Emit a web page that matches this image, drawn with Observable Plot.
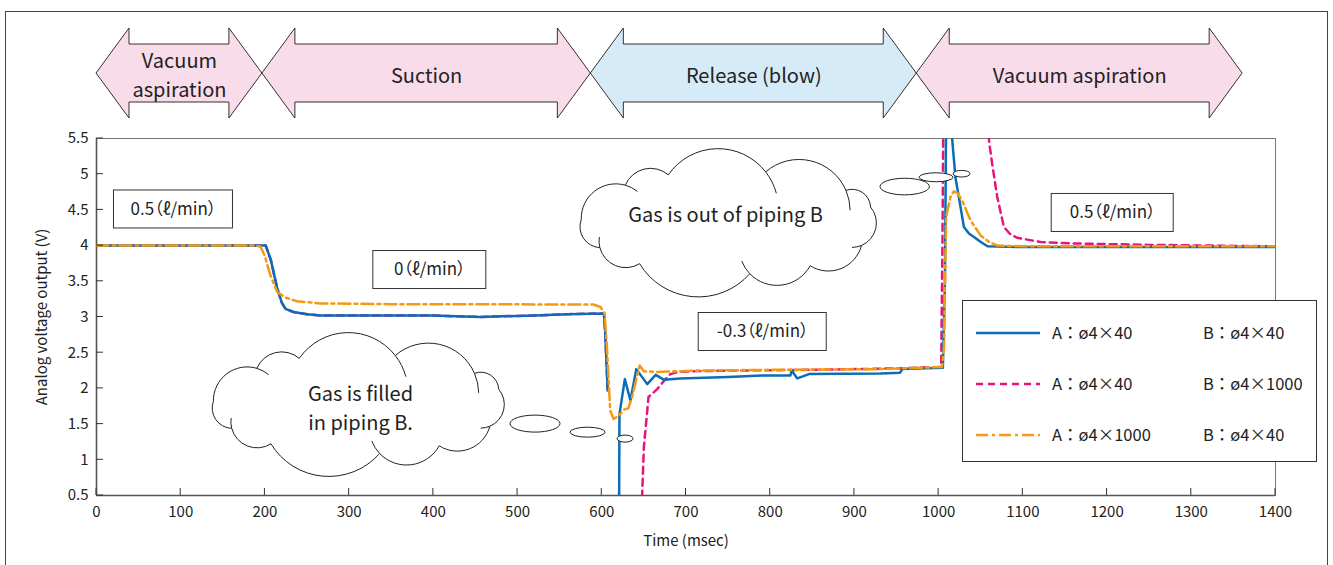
<!DOCTYPE html>
<html><head><meta charset="utf-8">
<script src="https://cdn.jsdelivr.net/npm/d3@7"></script>
<script src="https://cdn.jsdelivr.net/npm/@observablehq/plot@0.6"></script>
<style>
body{margin:0;background:#fff;}
#wrap{position:relative;width:1333px;height:565px;overflow:hidden;font-family:'Noto Sans CJK JP','Noto Sans',sans-serif;}
#chart{position:absolute;left:0;top:0;}
#chart svg{font-feature-settings:"palt";}
#border{position:absolute;left:5px;top:11px;width:1321px;height:600px;border:1px solid #444;pointer-events:none;}
#legend{position:absolute;left:962px;top:300px;}
</style></head>
<body><div id="wrap"><div id="chart"></div><div id="border"></div><div id="legend"></div></div>
<script>
// ---------- data ----------
const seriesA = ["A：ø4×40", "A：ø4×40", "A：ø4×1000"];
const seriesB = ["B：ø4×40", "B：ø4×1000", "B：ø4×40"];

// A: ø4×40, B: ø4×40 (blue)
const blueTime = [0, 195, 201, 207, 214.6, 220, 224.4, 234, 250, 266, 320, 400, 456, 482, 520, 560, 602.5, 604, 607, 608,
  620.5, 621, 627.4, 634, 641, 654, 664, 674, 693, 750, 790, 824, 825.5, 832, 846, 931, 954, 957, 1005, 1007.5, 1009, 1011,
  1016, 1020, 1024, 1030, 1036, 1042, 1050, 1058, 1100, 1200, 1300, 1400];
const blueVolt = [4.0, 4.0, 4.0, 3.8, 3.4, 3.2, 3.115, 3.07, 3.04, 3.02, 3.02, 3.02, 3.0, 3.01, 3.02, 3.04, 3.05, 2.8, 1.97, null,
  0.2, 1.64, 2.13, 1.83, 2.27, 2.06, 2.19, 2.12, 2.14, 2.16, 2.18, 2.18, 2.25, 2.14, 2.2, 2.21, 2.22, 2.27, 2.29, 3.5, 6.0, 6.3,
  5.5, 4.95, 4.68, 4.26, 4.17, 4.12, 4.05, 3.99, 3.98, 3.98, 3.98, 3.98];

// A: ø4×40, B: ø4×1000 (pink)
const pinkTime = [0, 195, 201, 207, 214.6, 220, 224.4, 234, 250, 266, 320, 400, 456, 482, 520, 560, 602.5, 604, 607, 608,
  647.5, 648, 650, 655.5, 665.8, 675.6, 681.6, 690, 709, 750, 850, 950, 1003, 1004.5, 1006, 1030, 1055, 1060, 1063.5, 1069.6,
  1077.5, 1085, 1093, 1121, 1160, 1250, 1400];
const pinkVolt = [4.0, 4.0, 4.0, 3.8, 3.4, 3.2, 3.115, 3.07, 3.04, 3.02, 3.02, 3.02, 3.0, 3.01, 3.02, 3.04, 3.05, 2.8, 1.97, null,
  0.3, 0.53, 1.18, 1.88, 1.99, 2.13, 2.2, 2.23, 2.24, 2.25, 2.26, 2.28, 2.3, 4.0, 6.5, 7.0, 6.2, 5.45, 5.15, 4.68,
  4.26, 4.16, 4.11, 4.05, 4.03, 4.01, 3.99];

// A: ø4×1000, B: ø4×40 (orange)
const orangeTime = [0, 190, 195, 200, 206, 214.6, 225, 238, 266, 350, 450, 550, 590, 598.5, 603.4, 606, 608.4, 610, 614, 620,
  627.5, 631.5, 636, 645, 650, 665.8, 717, 800, 931, 1004, 1006.5, 1007.5, 1009, 1014, 1018, 1022, 1028, 1038, 1050, 1060,
  1069.6, 1100, 1400];
const orangeVolt = [4.0, 4.0, 3.98, 3.85, 3.6, 3.35, 3.27, 3.22, 3.19, 3.18, 3.18, 3.175, 3.175, 3.14, 3.05, 2.6, 2.06, 1.69, 1.57, 1.62,
  1.71, 1.72, 1.88, 2.32, 2.24, 2.23, 2.25, 2.26, 2.27, 2.3, 2.6, 3.51, 4.4, 4.68, 4.76, 4.74, 4.63, 4.35, 4.14, 4.05,
  4.0, 3.99, 3.99];

const xTicks = [0, 100, 200, 300, 400, 500, 600, 700, 800, 900, 1000, 1100, 1200, 1300, 1400];
const yTicks = [0.5, 1, 1.5, 2, 2.5, 3, 3.5, 4, 4.5, 5, 5.5];

const phaseLabels = ["Vacuum\naspiration", "Suction", "Release (blow)", "Vacuum aspiration"];
const phaseStart = [0, 197, 587, 974];
const phaseEnd = [197, 587, 974, 1361];
const phaseKind = ["vacuum", "suction", "release", "vacuum"];

const flowLabels = ["0.5（ℓ/min）", "0（ℓ/min）", "-0.3（ℓ/min）", "0.5（ℓ/min）"];
const flowX = [91.4, 395.8, 791.1, 1206.7];
const flowY = [4.506, 3.658, 2.79, 4.457];

const cloudTexts = ["Gas is filled\nin piping B.", "Gas is out of piping B"];
const cloudX = [312.5, 751.7];
const cloudY = [1.775, 4.32];
const cloudTextX = [313.5, 747];
const cloudTextY = [1.75, 4.46];
const bubbleX = [521.3, 583.7, 628.2, 960.3, 997.5, 1027.8];
const bubbleY = [1.50, 1.38, 1.29, 4.82, 4.95, 5.0];

// ---------- styles / layout ----------
const seriesStyle = [
  {stroke: "#0b6db8", dash: null},
  {stroke: "#e6157d", dash: "7,5"},
  {stroke: "#f39a12", dash: "12,4,3,4"}
];
const phaseFill = {vacuum: "#f9dcea", suction: "#f9dcea", release: "#d6ebf8"};
const boxW = [119, 113, 128, 122];
const cloudSize = [[154, 67, 11], [156, 69, 11]];
const bubbleSize = [[25, 8.5], [17.5, 5], [8, 3.5], [24.7, 8.3], [17, 4.5], [8.5, 3.3]];
const FONT = "'Noto Sans CJK JP', 'Noto Sans', sans-serif";

const toRows = (time, volt) => time.map((t, i) => ({t, v: volt[i]}));
const lineData = [toRows(blueTime, blueVolt), toRows(pinkTime, pinkVolt), toRows(orangeTime, orangeVolt)];
const drawOrder = [1, 0, 2];

function cloudPath(cx, cy, rx, ry, n) {
  const a = rx - 8, b = ry - 17;
  const off = -Math.PI / 2 + 0.25;
  const pts = d3.range(n).map(i => {
    const ang = off + 2 * Math.PI * i / n + 0.12 * Math.sin(i * 2.3);
    return [cx + a * Math.cos(ang), cy + b * Math.sin(ang)];
  });
  let d = `M${pts[0][0]},${pts[0][1]}`;
  const hooks = [];
  for (let i = 0; i < n; i++) {
    const P = pts[i], Q = pts[(i + 1) % n];
    const c = Math.hypot(Q[0] - P[0], Q[1] - P[1]);
    const r = c * 0.62;
    d += `A${r},${r} 0 0 1 ${Q[0]},${Q[1]}`;
    if (i % 2 === 0) {
      const ux = (Q[0] - P[0]) / c, uy = (Q[1] - P[1]) / c;
      const h = Math.sqrt(r * r - c * c / 4);
      const C = [(P[0] + Q[0]) / 2 - uy * h, (P[1] + Q[1]) / 2 + ux * h];
      const th = Math.atan2(Q[1] - C[1], Q[0] - C[0]);
      const R = [C[0] + r * Math.cos(th + 0.4), C[1] + r * Math.sin(th + 0.4)];
      hooks.push(`M${Q[0]},${Q[1]}A${r},${r} 0 0 1 ${R[0]},${R[1]}`);
    }
  }
  return {outline: d + "Z", hooks: hooks.join("")};
}

const cloudsMark = (index, {x, y}) => {
  const g = d3.create("svg:g");
  cloudX.forEach((cx, i) => {
    const [rx, ry, n] = cloudSize[i];
    const p = cloudPath(x(cx), y(cloudY[i]), rx, ry, n);
    g.append("path").attr("d", p.outline).attr("fill", "white").attr("stroke", "#222").attr("stroke-width", 1);
    g.append("path").attr("d", p.hooks).attr("fill", "none").attr("stroke", "#222").attr("stroke-width", 1);
  });
  bubbleX.forEach((bx, i) => {
    g.append("ellipse").attr("cx", x(bx)).attr("cy", y(bubbleY[i]))
      .attr("rx", bubbleSize[i][0]).attr("ry", bubbleSize[i][1])
      .attr("fill", "white").attr("stroke", "#222").attr("stroke-width", 1);
  });
  return g.node();
};

const arrowsMark = (index, {x}, values, dims) => {
  const top = dims.marginTop;
  const yHT = top - 110, yBT = top - 94, yM = top - 65, yBB = top - 36, yHB = top - 20, hl = 33;
  const g = d3.create("svg:g");
  phaseStart.forEach((s, i) => {
    const x0 = x(s), x1 = x(phaseEnd[i]);
    const pts = [[x0, yM], [x0 + hl, yHT], [x0 + hl, yBT], [x1 - hl, yBT], [x1 - hl, yHT], [x1, yM],
      [x1 - hl, yHB], [x1 - hl, yBB], [x0 + hl, yBB], [x0 + hl, yHB]];
    g.append("polygon").attr("points", pts.map(p => p.join(",")).join(" "))
      .attr("fill", phaseFill[phaseKind[i]]).attr("stroke", "#231815").attr("stroke-width", 0.9);
  });
  return g.node();
};

const ticksMark = (index, {x, y}, values, dims) => {
  const g = d3.create("svg:g").attr("stroke", "#333").attr("stroke-width", 1);
  const bottom = dims.height - dims.marginBottom, left = dims.marginLeft;
  xTicks.forEach(t => g.append("line").attr("x1", x(t)).attr("x2", x(t)).attr("y1", bottom).attr("y2", bottom - 7));
  yTicks.forEach(t => g.append("line").attr("x1", left).attr("x2", left + 7).attr("y1", y(t)).attr("y2", y(t)));
  return g.node();
};

const chart = Plot.plot({
  width: 1333, height: 565,
  marginTop: 138, marginRight: 58, marginBottom: 70, marginLeft: 96,
  style: {fontFamily: FONT, fontSize: "15px", color: "#222", background: "transparent"},
  x: {domain: [0, 1400]},
  y: {domain: [0.5, 5.5]},
  marks: [
    Plot.frame({stroke: "#777", strokeWidth: 1}),
    Plot.ruleY([0.5], {stroke: "#555", strokeWidth: 1.6}),
    Plot.ruleX([0], {stroke: "#555", strokeWidth: 1.6}),
    ...drawOrder.map(k => Plot.line(lineData[k], {
      x: "t", y: "v", stroke: seriesStyle[k].stroke, strokeWidth: 2.5,
      strokeDasharray: seriesStyle[k].dash, clip: true, curve: "linear"
    })),
    ...flowLabels.map((s, i) => Plot.rect([i], {
      x1: d => flowX[d], x2: d => flowX[d], y1: d => flowY[d], y2: d => flowY[d],
      insetLeft: -boxW[i] / 2, insetRight: -boxW[i] / 2, insetTop: -19, insetBottom: -19,
      fill: "white", stroke: "#333", strokeWidth: 1
    })),
    Plot.text(flowLabels, {x: (d, i) => flowX[i], y: (d, i) => flowY[i], text: d => d, fontSize: 17, fill: "#222"}),
    cloudsMark,
    Plot.text(cloudTexts, {x: (d, i) => cloudTextX[i], y: (d, i) => cloudTextY[i], text: d => d, fontSize: 20, lineHeight: 1.46, fill: "#222"}),
    arrowsMark,
    Plot.text(phaseLabels, {x: (d, i) => (phaseStart[i] + phaseEnd[i]) / 2, frameAnchor: "top", lineAnchor: "middle", dy: -65, text: d => d,
      fontSize: 20, lineHeight: 1.46, fill: "#222"}),
    ticksMark,
    Plot.axisX(xTicks, {tickSize: 0, tickPadding: 11, tickFormat: d => String(d), label: null, fontSize: 15}),
    Plot.axisY(yTicks, {tickSize: 0, tickPadding: 8, tickFormat: d => String(d), label: null, fontSize: 15}),
    Plot.text(["Analog voltage output (V)"], {frameAnchor: "left", textAnchor: "middle", lineAnchor: "middle", dx: -54, rotate: -90, text: d => d, fontSize: 15, fill: "#222"}),
    Plot.text(["Time (msec)"], {frameAnchor: "bottom", lineAnchor: "middle", dy: 46, text: d => d, fontSize: 15, fill: "#222"})
  ]
});
document.getElementById("chart").appendChild(chart);

// ---------- legend ----------
const lg = d3.select("#legend").append("svg").attr("width", 356).attr("height", 163)
  .style("font-family", FONT).style("display", "block");
lg.append("rect").attr("x", 0.5).attr("y", 0.5).attr("width", 354).attr("height", 161)
  .attr("fill", "white").attr("stroke", "#333");
seriesA.forEach((a, i) => {
  const yy = 33 + 51 * i;
  lg.append("line").attr("x1", 14).attr("x2", 78).attr("y1", yy).attr("y2", yy)
    .attr("stroke", seriesStyle[i].stroke).attr("stroke-width", 2.5)
    .attr("stroke-dasharray", seriesStyle[i].dash);
  lg.append("text").attr("x", 90).attr("y", yy).attr("dy", "0.35em").attr("font-size", 16.5).attr("fill", "#222").text(a);
  lg.append("text").attr("x", 241).attr("y", yy).attr("dy", "0.35em").attr("font-size", 16.5).attr("fill", "#222").text(seriesB[i]);
});
</script></body></html>
